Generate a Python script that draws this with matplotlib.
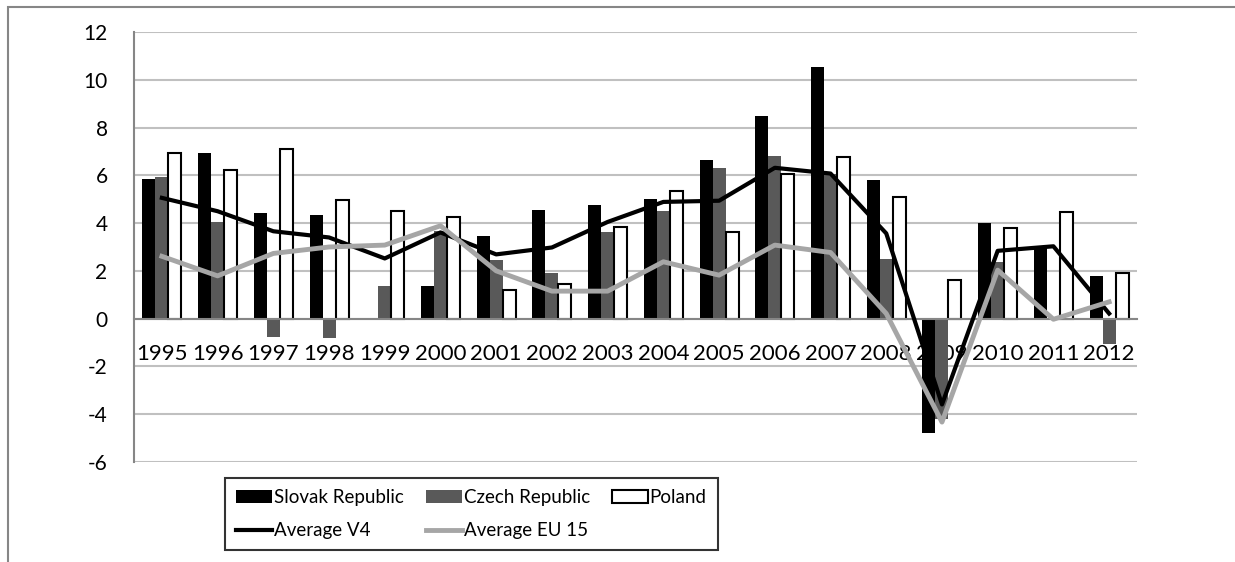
import numpy as np
import matplotlib.pyplot as plt
from matplotlib.patches import Rectangle

years = ['1995', '1996', '1997', '1998', '1999', '2000', '2001', '2002', '2003',
         '2004', '2005', '2006', '2007', '2008', '2009', '2010', '2011', '2012']
slovak = [5.85, 6.92, 4.43, 4.33, 0.03, 1.36, 3.45, 4.57, 4.75,
          5.03, 6.64, 8.49, 10.53, 5.80, -4.80, 4.01, 2.94, 1.78]
czech = [5.94, 4.05, -0.77, -0.80, 1.36, 3.65, 2.47, 1.89, 3.61,
         4.52, 6.32, 6.82, 6.08, 2.49, -4.20, 2.38, 0.0, -1.05]
poland = [6.95, 6.22, 7.09, 4.96, 4.52, 4.24, 1.19, 1.43, 3.85,
          5.34, 3.61, 6.08, 6.78, 5.10, 1.61, 3.78, 4.47, 1.89]
avg_v4 = [5.06, 4.50, 3.66, 3.40, 2.52, 3.61, 2.69, 2.98, 4.05,
          4.89, 4.94, 6.32, 6.08, 3.57, -3.60, 2.84, 3.03, 0.21]
avg_eu15 = [2.61, 1.79, 2.73, 3.00, 3.08, 3.89, 2.00, 1.15, 1.15,
            2.38, 1.82, 3.08, 2.77, 0.21, -4.34, 2.03, -0.03, 0.70]
yticks = [-6, -4, -2, 0, 2, 4, 6, 8, 10, 12]

plt.rcParams['font.family'] = ['Lato', 'DejaVu Sans']

fig = plt.figure(figsize=(12.35, 5.62), dpi=100)
ax = fig.add_axes([134 / 1235, 1 - 461.7 / 562, 1003 / 1235, (461.7 - 32.3) / 562])

# spines first: set_position resets the tick settings
for s in ['top', 'right']:
    ax.spines[s].set_visible(False)
ax.spines['bottom'].set_position(('data', 0))
ax.spines['bottom'].set_color('#868686')
ax.spines['bottom'].set_linewidth(1.5)
ax.spines['left'].set_color('#868686')
ax.spines['left'].set_linewidth(1.5)

x = np.arange(len(years))
w = 0.233
b1 = ax.bar(x - w, slovak, w, color='black', label='Slovak Republic', zorder=2)
b2 = ax.bar(x, czech, w, color='#595959', label='Czech Republic', zorder=2)
b3 = ax.bar(x + w, poland, w, color='white', edgecolor='black', linewidth=1.5,
            label='Poland', zorder=2)
l1, = ax.plot(x, avg_v4, color='black', lw=3, label='Average V4', zorder=3)
l2, = ax.plot(x, avg_eu15, color='#a6a6a6', lw=3.5, label='Average EU 15', zorder=3)

ax.set_xlim(-0.5, len(years) - 0.5)
ax.set_ylim(-6, 12)
ax.set_yticks(yticks)
ax.set_yticklabels([str(v) for v in yticks])
ax.tick_params(axis='y', length=0, pad=19, labelsize=15)
ax.set_xticks(x)
ax.set_xticklabels(years)
ax.tick_params(axis='x', length=0, pad=18, labelsize=16)

ax.set_axisbelow(True)
ax.grid(axis='y', color='#c0c0c0', lw=1.5)

leg = ax.legend([b1, l1, b2, l2, b3],
                ['Slovak Republic', 'Average V4', 'Czech Republic', 'Average EU 15', 'Poland'],
                ncol=3, loc='upper left', bbox_to_anchor=(225 / 1235, 1 - 478 / 562),
                bbox_transform=fig.transFigure, frameon=True, fancybox=False,
                fontsize=13.5, edgecolor='black', handlelength=1.9, handletextpad=0.1,
                columnspacing=1.2, labelspacing=0.85, borderpad=0.6, borderaxespad=0)
leg.get_frame().set_linewidth(1.5)

# outer chart border (cropped at right and bottom)
fig.patches.append(Rectangle((8 / 1235, -0.1), 1.2, 1 - 7 / 562 + 0.1,
                             transform=fig.transFigure, fill=False,
                             edgecolor='#868686', lw=1.5))

fig.savefig('out.png', dpi=100)
